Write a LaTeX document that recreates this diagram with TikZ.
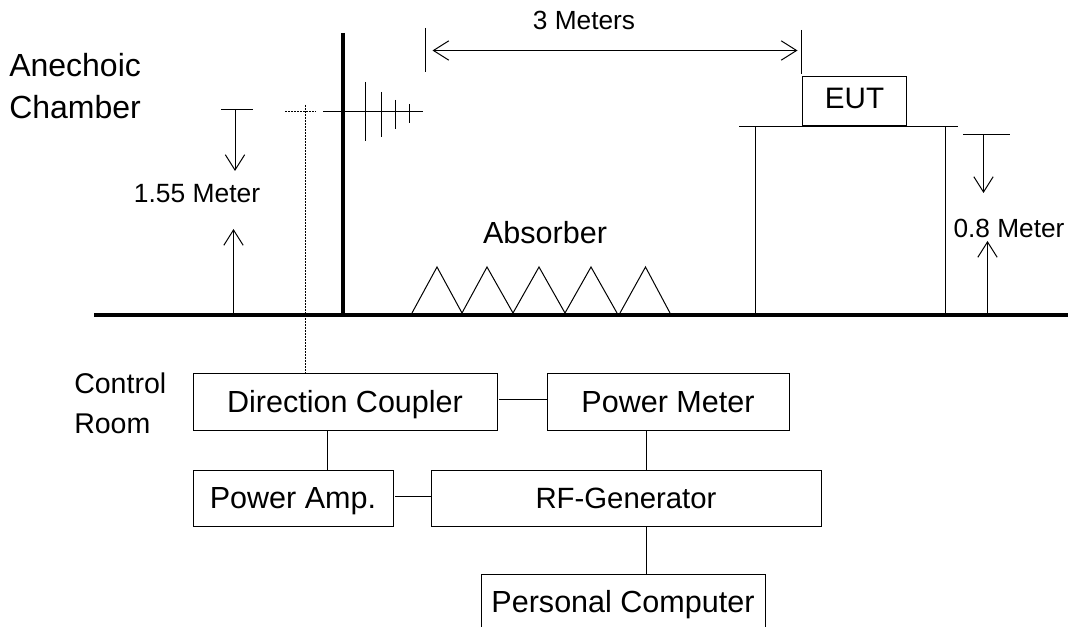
\documentclass[tikz,border=0pt]{standalone}
\usepackage{fontspec}
\setmainfont{Liberation Sans}
\usetikzlibrary{arrows.meta}
\tikzset{
	txt/.style={inner sep=0pt, text depth=0pt, text height=14pt, font=\fontsize{#1}{#1}\selectfont},
	boxnode/.style={draw, line width=0.75pt, inner sep=0pt, minimum height=42pt, text depth=0pt, text height=16pt, font=\fontsize{#1}{#1}\selectfont},
	thin line/.style={line width=0.75pt},
	heavy line/.style={line width=3pt},
	feed line/.style={line width=0.75pt, dash pattern=on 1.5pt off 0.75pt}
}
\begin{document}
\begin{tikzpicture}[x=0.75pt, y=-0.75pt, >={Straight Barb[length=11.5pt, width=14.5pt, line width=0.75pt]}]
		\path[use as bounding box, clip] (0, 0) rectangle (1068, 627);
		% floor, mast and antenna
		\draw[heavy line] (94, 315) -- (1068, 315);
		\draw[heavy line] (343, 33) -- (343, 315);
		\draw[thin line] (323, 112) -- (423, 112);
		\foreach \x/\a/\b in {365/82/141, 381/92/137, 395/100/129, 409/104/123}
			\draw[thin line] (\x, \a) -- (\x, \b);
		% feed line
		\draw[feed line] (285, 112) -- (316, 112);
		% absorber
		\foreach \l/\t/\r in {412/437/462, 462/487/513, 513/539/565, 565/591/617, 620/645.5/670}
			\draw[thin line] (\l, 313) -- (\t, 267) -- (\r, 313);
		% table and device
		\draw[thin line] (739, 127) -- (958, 127);
		\draw[thin line] (755.5, 127) -- (755.5, 317);
		\draw[thin line] (945, 127) -- (945, 315);
		\node[boxnode=22.2, minimum width=78.5pt, minimum height=36.75pt, text depth=6.2pt] (eut) at (854.5, 101.5) {EUT};
		% distance between antenna and device
		\draw[thin line] (425, 28) -- (425, 72);
		\draw[thin line] (801, 30) -- (801, 74);
		\draw[thin line, <->] (432.5, 50.5) -- (797.5, 50.5);
		\node[txt=19.7] (dist) at (584, 19.7) {3 Meters};
		% antenna height
		\draw[thin line] (221, 110) -- (253, 110);
		\draw[thin line, ->] (235, 110) -- (235, 171);
		\draw[thin line, ->] (233.5, 317) -- (233.5, 229);
		\node[txt=19.8] (anth) at (197, 193) {1.55 Meter};
		% table height
		\draw[thin line] (963, 135) -- (1010, 135);
		\draw[thin line, ->] (983.5, 135) -- (983.5, 193);
		\draw[thin line, ->] (987.5, 315) -- (987.5, 241);
		\node[txt=19.7] (tabh) at (1009, 227.7) {0.8 Meter};
		% texts
		\node[txt=22.9, text height=16pt] (abs) at (545, 233.3) {Absorber};
		\node[inner sep=0pt, anchor=west, align=left, font=\fontsize{24}{31.5}\selectfont] (anech) at (9, 86) {Anechoic\\Chamber};
		\node[inner sep=0pt, anchor=west, align=left, font=\fontsize{21.4}{30}\selectfont] (ctrl) at (74, 403) {Control\\Room};
		% control room
		\node[boxnode=22.9, minimum width=228pt] (dcoupler) at (345, 402) {Direction Coupler};
		\node[boxnode=22.9, minimum width=181.5pt] (pmeter) at (668, 402) {Power Meter};
		\node[boxnode=22.9, minimum width=150pt] (pamp) at (293, 498) {Power Amp.};
		\node[boxnode=22, minimum width=292.5pt] (rfgen) at (626, 498) {RF-Generator};
		\node[boxnode=22.9, minimum width=213pt] (pc) at (623, 602) {Personal Computer};
		\draw[feed line] (305, 105) -- (dcoupler.north -| 305, 0);
		\draw[thin line] (499, 400) -- (pmeter.west |- 0, 400);
		\draw[thin line] (dcoupler.south -| 327, 0) -- (pamp.north -| 327, 0);
		\draw[thin line] (395, 496) -- (rfgen.west |- 0, 496);
		\draw[thin line] (pmeter.south -| 646, 0) -- (rfgen.north -| 646, 0);
		\draw[thin line] (rfgen.south -| 646, 0) -- (pc.north -| 646, 0);
	\end{tikzpicture}
\end{document}
